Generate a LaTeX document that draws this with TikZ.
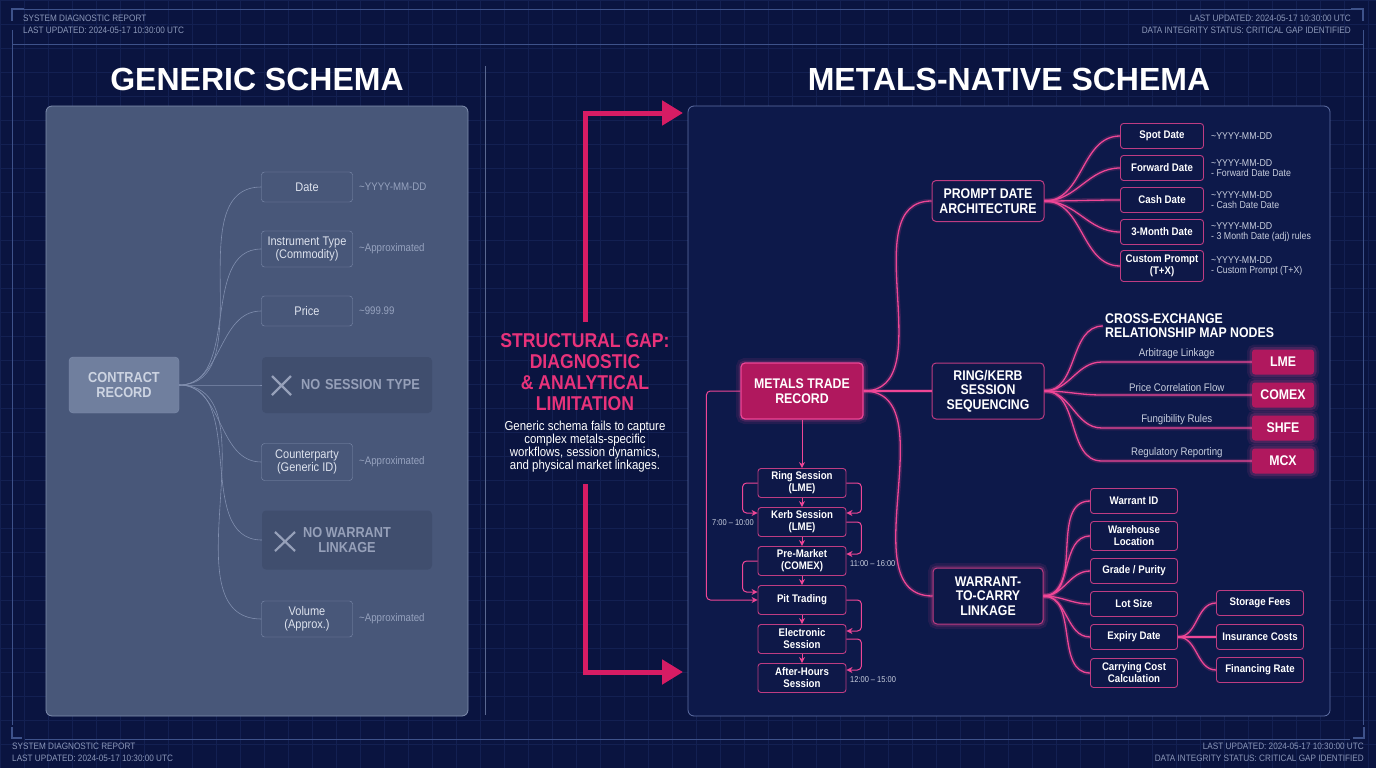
\documentclass[tikz,border=0pt]{standalone}
\usepackage{fontspec}
\setmainfont{Liberation Sans}[FakeStretch=0.88]
\newfontfamily\titlefont{Liberation Sans}
\usetikzlibrary{arrows.meta,calc,positioning}
\definecolor{bgnavy}{RGB}{10,20,64}
\definecolor{gridc}{RGB}{19,32,82}
\definecolor{framec}{RGB}{62,82,138}
\definecolor{hdrc}{RGB}{140,152,185}
\definecolor{divc}{RGB}{90,104,145}
\definecolor{gpanel}{RGB}{72,87,121}
\definecolor{gedge}{RGB}{128,142,174}
\definecolor{gtext}{RGB}{222,227,238}
\definecolor{gdim}{RGB}{150,162,190}
\definecolor{gcore}{RGB}{112,127,158}
\definecolor{gcoretext}{RGB}{205,212,226}
\definecolor{gmissf}{RGB}{64,78,110}
\definecolor{gmisst}{RGB}{150,160,185}
\definecolor{rpanel}{RGB}{13,25,74}
\definecolor{redge}{RGB}{95,112,165}
\definecolor{gapc}{RGB}{214,28,100}
\definecolor{gaptxt}{RGB}{232,50,122}
\definecolor{pinkline}{RGB}{238,70,150}
\definecolor{boxedge}{RGB}{190,60,130}
\definecolor{navybox}{RGB}{14,24,72}
\definecolor{magfill}{RGB}{176,24,94}
\definecolor{notec}{RGB}{200,206,222}
\newcommand{\fsz}[2]{\fontsize{#1}{#2}\selectfont}

\begin{document}
\begin{tikzpicture}[x=1pt,y=-1pt,
  gbox/.style={draw=gedge, fill=gpanel, text=gtext, rounded corners=3pt, align=center,
    font=\fsz{12.5}{13.5}, minimum width=91, minimum height=30, inner sep=1pt},
  gnote/.style={text=gdim, font=\fsz{11}{12}, anchor=west, inner sep=0pt},
  gmiss/.style={fill=gmissf, text=gmisst, rounded corners=4pt, font=\bfseries\fsz{14.5}{15.5},
    minimum width=170, minimum height=56, inner sep=0pt},
  gline/.style={draw=gedge, line width=0.6pt},
  hub/.style={draw=boxedge, fill=navybox, text=white, rounded corners=4pt, align=center,
    font=\bfseries\fsz{14}{14.5}, minimum width=112, minimum height=41, inner sep=1pt, line width=1pt},
  core/.style={hub, fill=magfill, draw=pinkline, line width=1.2pt, glow},
  leaf/.style={draw=boxedge, fill=navybox, text=white, rounded corners=3pt, align=center,
    font=\bfseries\fsz{11}{12}, minimum width=83, minimum height=25, inner sep=1pt, line width=0.9pt},
  exch/.style={fill=magfill, text=white, rounded corners=3pt, font=\bfseries\fsz{14}{14},
    minimum width=62, minimum height=25, inner sep=0pt},
  sess/.style={leaf, minimum width=88, minimum height=29},
  note/.style={text=notec, font=\fsz{10}{10.5}, align=left, anchor=west, inner sep=0pt},
  tnote/.style={text=notec, font=\fsz{8.5}{9}, inner sep=0pt},
  elabel/.style={text=notec, font=\fsz{11}{12}, inner sep=0pt},
  pline/.style={draw=pinkline, line width=1.3pt, preaction={draw=pinkline, line width=4.5pt, opacity=0.18}},
  sarrow/.style={draw=pinkline, line width=1pt, rounded corners=4pt, -{Stealth[length=6pt,width=6pt]}},
  glow/.style={preaction={draw=pinkline, line width=10pt, opacity=0.10},
    preaction={draw=pinkline, line width=5pt, opacity=0.18}},
  hdr/.style={text=hdrc, font=\fsz{9.3}{11.5}, inner sep=0pt}]

  % background and grid
  \useasboundingbox (0,0) rectangle (1376,768);
  \fill[bgnavy] (0,0) rectangle (1376,768);
  \draw[gridc, line width=0.5pt, step=24pt] (0,768) grid (1376,0);

  % frame
  \draw[framec, line width=0.8pt] (12,9) -- (1363,9);
  \draw[framec, line width=0.8pt] (12,44) -- (1363,44);
  \draw[framec, line width=2pt] (12,21) -- (12,9) -- (24,9);
  \draw[framec, line width=2pt] (1351,9) -- (1363,9) -- (1363,21);
  \draw[framec, line width=0.8pt] (12,30) -- (12,725);
  \draw[framec, line width=0.8pt] (1363,30) -- (1363,725);
  \draw[framec, line width=2pt] (12,727) -- (12,738) -- (22,738);
  \draw[framec, line width=2pt] (1353,738) -- (1364,738) -- (1364,727);
  \draw[framec, line width=0.8pt] (25,739) -- (1350,739);

  % header and footer
  \node[hdr, anchor=north west, align=left] (hdrtl) at (23,15) {SYSTEM DIAGNOSTIC REPORT\\LAST UPDATED: 2024-05-17 10:30:00 UTC};
  \node[hdr, anchor=north east, align=right] (hdrtr) at (1351,15) {LAST UPDATED: 2024-05-17 10:30:00 UTC\\DATA INTEGRITY STATUS: CRITICAL GAP IDENTIFIED};
  \node[hdr, anchor=north west, align=left] (hdrbl) at (12,743) {SYSTEM DIAGNOSTIC REPORT\\LAST UPDATED: 2024-05-17 10:30:00 UTC};
  \node[hdr, anchor=north east, align=right] (hdrbr) at (1364,743) {LAST UPDATED: 2024-05-17 10:30:00 UTC\\DATA INTEGRITY STATUS: CRITICAL GAP IDENTIFIED};

  % titles
  \node[text=white, font=\titlefont\bfseries\fsz{32}{32}] (gtitle) at (257,79) {GENERIC SCHEMA};
  \node[text=white, font=\titlefont\bfseries\fsz{32}{32}] (rtitle) at (1009,79) {METALS-NATIVE SCHEMA};

  % generic schema panel
  \draw[gedge, fill=gpanel, rounded corners=6pt, line width=0.8pt] (46,106) rectangle (468,716);
  \node[draw=gedge, fill=gcore, text=gcoretext, rounded corners=4pt, align=center,
    font=\bfseries\fsz{14.5}{15.5}, minimum width=110, minimum height=56] (contract) at (124,385) {CONTRACT\\RECORD};
  \node[gbox] (gdate) at (307,187) {Date};
  \node[gbox, minimum height=36] (ginstr) at (307,249) {Instrument Type\\(Commodity)};
  \node[gbox] (gprice) at (307,311) {Price};
  \node[gmiss, text width=146, align=right, inner xsep=12] (gnosess) at (347,385) {NO SESSION TYPE};
  \node[gbox, minimum height=37] (gcpty) at (307,462) {Counterparty\\(Generic ID)};
  \node[gmiss, minimum height=59, align=center] (gnowarr) at (347,540) {NO WARRANT\\LINKAGE};
  \node[gbox, minimum height=36] (gvol) at (307,619) {Volume\\(Approx.)};
  \draw[gmisst, line width=2.2pt] (272,376) -- (291,395) (272,395) -- (291,376);
  \draw[gmisst, line width=2.2pt] (275,532) -- (295,551) (275,551) -- (295,532);

  \node[gnote] (gdate note) at (359,187) {\textasciitilde YYYY-MM-DD};
  \node[gnote] (ginstr note) at (359,249) {\textasciitilde Approximated};
  \node[gnote] (gprice note) at (359,311) {\textasciitilde 999.99};
  \node[gnote] (gcpty note) at (359,462) {\textasciitilde Approximated};
  \node[gnote] (gvol note) at (359,619) {\textasciitilde Approximated};

  \foreach \n in {gdate,ginstr,gprice,gnosess,gcpty,gnowarr,gvol}
    \draw[gline] (contract.east) to[out=0,in=180] (\n.west);

  % divider and structural gap
  \draw[divc, line width=1pt] (485,66) -- (485,715);
  \coordinate (gaptop) at (683,113);
  \coordinate (gapbot) at (683,672);
  \draw[gapc, line width=5pt, -{Triangle[length=21pt,width=24pt]}] (585,322) |- (gaptop);
  \draw[gapc, line width=5pt, -{Triangle[length=21pt,width=24pt]}] (585,484) |- (gapbot);
  \node[text=gaptxt, font=\bfseries\fsz{20}{21}, align=center] (gaptitle) at (585,372)
    {STRUCTURAL GAP:\\DIAGNOSTIC\\\& ANALYTICAL\\LIMITATION};
  \node[text=white, font=\fsz{13}{13}, align=center] (gapdesc) at (585,447)
    {Generic schema fails to capture\\complex metals-specific\\workflows, session dynamics,\\and physical market linkages.};

  % metals-native panel
  \draw[redge, fill=rpanel, rounded corners=6pt, line width=0.8pt] (688,106) rectangle (1330,716);
  \node[core, minimum width=122, minimum height=56] (mtr) at (802,391) {METALS TRADE\\RECORD};
  \node[hub] (pda) at (988,201) {PROMPT DATE\\ARCHITECTURE};
  \node[hub, minimum height=56] (rks) at (988,391) {RING/KERB\\SESSION\\SEQUENCING};
  \node[hub, minimum width=110, minimum height=56, glow] (wtc) at (988,596) {WARRANT-\\TO-CARRY\\LINKAGE};

  \draw[pline] (mtr.east) to[out=0,in=180] (pda.west);
  \draw[pline] (mtr.east) -- (rks.west);
  \draw[pline] (mtr.east) to[out=0,in=180] (wtc.west);

  % prompt dates
  \foreach \n/\y/\h/\txt/\dt in {
    spot/136/25/{Spot Date}/{\textasciitilde YYYY-MM-DD},
    fwd/168/25/{Forward Date}/{\textasciitilde YYYY-MM-DD\\- Forward Date Date},
    cash/200/25/{Cash Date}/{\textasciitilde YYYY-MM-DD\\- Cash Date Date},
    tmon/232/25/{3-Month Date}/{\textasciitilde YYYY-MM-DD\\- 3 Month Date (adj) rules},
    cust/266/31/{Custom Prompt\\(T+X)}/{\textasciitilde YYYY-MM-DD\\- Custom Prompt (T+X)}} {
    \node[leaf, minimum height=\h] (\n) at (1162,\y) {\txt};
    \node[note] (\n note) at (1211,\y) {\dt};
    \draw[pline] (pda.east) to[out=0,in=180] (\n.west);
  }

  % cross-exchange map
  \node[text=white, font=\bfseries\fsz{14}{14}, align=left, anchor=west, inner sep=2pt] (xtitle) at (1103,326)
    {CROSS-EXCHANGE\\RELATIONSHIP MAP NODES};
  \draw[pline] (rks.east) to[out=0,in=180] (xtitle.west);
  \foreach \n/\y/\txt/\lbl in {lme/362/LME/{Arbitrage Linkage}, comex/395/COMEX/{Price Correlation Flow},
    shfe/428/SHFE/{Fungibility Rules}, mcx/461/MCX/{Regulatory Reporting}} {
    \node[exch, glow] (\n) at (1283,\y) {\txt};
    \draw[pline] (rks.east) to[out=0,in=180] ($(\n.west)+(-150,0)$) -- (\n.west)
      node[midway, above=3pt, elabel] (\n lbl) {\lbl};
  }

  % warrant-to-carry
  \foreach \n/\y/\h/\txt in {wid/501/25/{Warrant ID}, wloc/536/29/{Warehouse\\Location},
    grade/571/25/{Grade / Purity}, lot/604/25/{Lot Size}, expiry/637/25/{Expiry Date},
    carry/673/29/{Carrying Cost\\Calculation}} {
    \node[leaf, minimum width=87, minimum height=\h] (\n) at (1134,\y) {\txt};
    \draw[pline] (wtc.east) to[out=0,in=180] (\n.west);
  }
  \foreach \n/\y/\txt in {storage/603/{Storage Fees}, insur/637/{Insurance Costs}, finrate/670/{Financing Rate}} {
    \node[leaf, minimum width=87] (\n) at (1260,\y) {\txt};
    \draw[pline] (expiry.east) to[out=0,in=180] (\n.west);
  }

  % session sequence
  \foreach \n/\y/\txt in {ring/483/{Ring Session\\(LME)}, kerb/522/{Kerb Session\\(LME)},
    premkt/561/{Pre-Market\\(COMEX)}, pit/600/{Pit Trading}, elec/639/{Electronic\\Session},
    after/678/{After-Hours\\Session}}
    \node[sess] (\n) at (802,\y) {\txt};
  \draw[sarrow] (mtr.south) -- (ring.north);
  \foreach \a/\b in {ring/kerb, kerb/premkt, premkt/pit, pit/elec, elec/after}
    \draw[sarrow] (\a.south) -- (\b.north);
  \draw[sarrow] (ring.west) -- ++(-15,0) |- ($(kerb.west)+(0,-9)$);
  \draw[sarrow] (ring.east) -- ++(15,0) |- ($(kerb.east)+(0,-9)$);
  \draw[sarrow] (kerb.east) -- ++(15,0) |- ($(premkt.east)+(0,-7)$);
  \draw[sarrow] (premkt.west) -- ++(-15,0) |- ($(pit.west)+(0,-8)$);
  \draw[sarrow] (pit.east) -- ++(15,0) |- ($(elec.east)+(0,-8)$);
  \draw[sarrow] (elec.east) -- ++(15,0) |- ($(after.east)+(0,-8)$);
  \draw[sarrow] (mtr.west) -- ++(-34,0) |- (pit.west);

  \node[tnote, anchor=east] (t1) at (754,523) {7:00 -- 10:00};
  \node[tnote, anchor=west] (t2) at (850,564) {11:00 -- 16:00};
  \node[tnote, anchor=west] (t3) at (850,680) {12:00 -- 15:00};
\end{tikzpicture}
\end{document}
